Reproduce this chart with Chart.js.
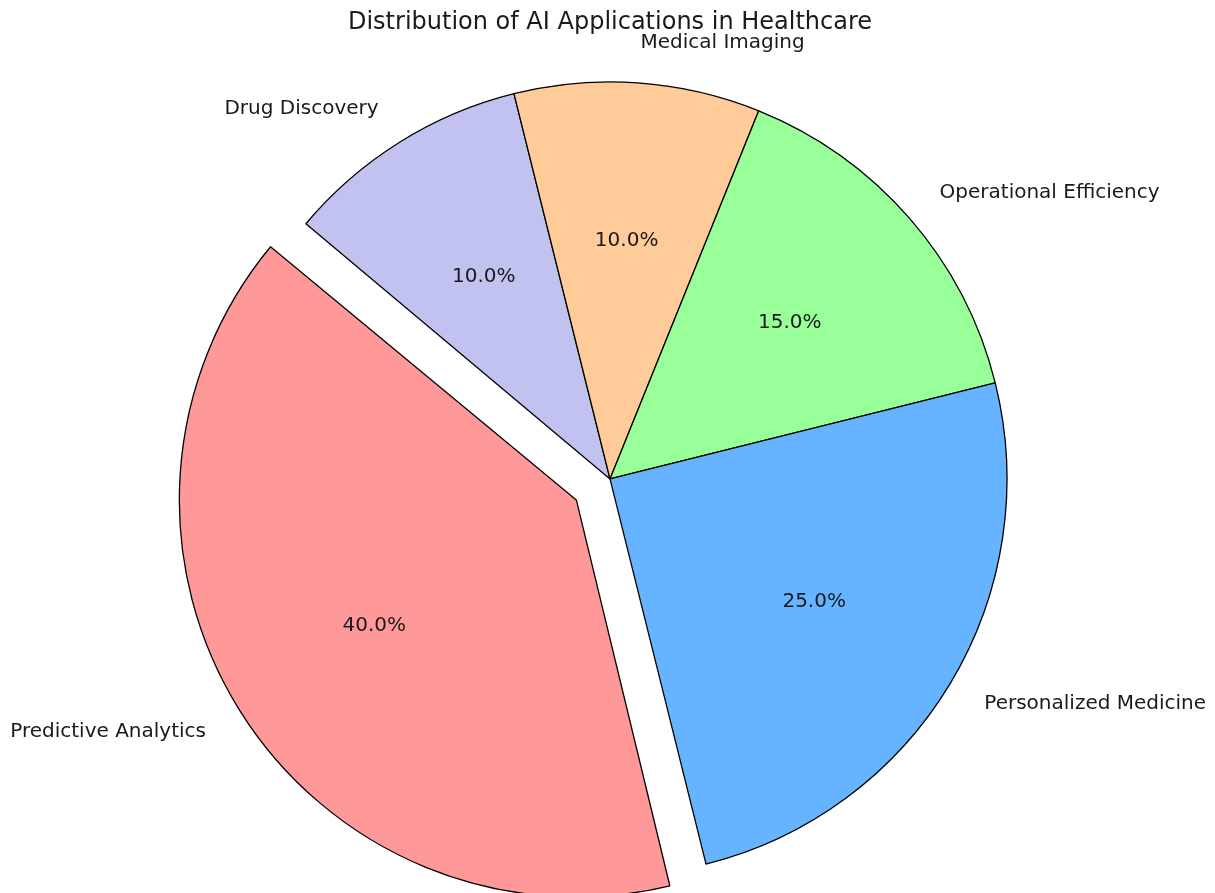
<!DOCTYPE html>
<html lang="en">
<head>
    <meta charset="UTF-8">
    <title>Distribution of AI Applications in Healthcare</title>
    <script src="https://cdn.jsdelivr.net/npm/chart.js@4.4.1/dist/chart.umd.min.js"></script>
    <style>
        body {
            margin: 0;
            background: #ffffff;
        }
        .container {
            width: 1215px;
            height: 893px;
        }
    </style>
</head>
<body>
    <div class="container">
        <canvas id="pieChart"></canvas>
    </div>

    <script>
        // Data in matplotlib order (counterclockwise from start angle)
        const labels = ['Predictive Analytics', 'Personalized Medicine', 'Operational Efficiency', 'Medical Imaging', 'Drug Discovery'];
        const sizes = [40, 25, 15, 10, 10];
        const colors = ['#ff9999', '#66b3ff', '#99ff99', '#ffcc99', '#c2c2f0'];
        const explode = [0.1, 0, 0, 0, 0];

        const R = 397;          // pie radius in px
        const textFont = '20px "DejaVu Sans"';

        // Chart.js draws clockwise, so reverse to keep the same visual order
        const cLabels = labels.slice().reverse();
        const cSizes = sizes.slice().reverse();
        const cColors = colors.slice().reverse();
        const cExplode = explode.slice().reverse();

        // keep exploded wedges the same radius (Chart.js grows them a bit)
        const keepRadius = {
            id: 'keepRadius',
            beforeDatasetsDraw(chart) {
                const meta = chart.getDatasetMeta(0);
                meta.data.forEach((arc, i) => {
                    const off = (arc.options.offset || 0) / 4;
                    const circ = arc.endAngle - arc.startAngle;
                    const fix = 1 - Math.sin(Math.min(Math.PI, circ));
                    arc.outerRadius = R - off * fix;
                });
            }
        };

        // wedge labels and percentages like matplotlib autopct
        const pieLabels = {
            id: 'pieLabels',
            afterDatasetsDraw(chart) {
                const ctx = chart.ctx;
                const meta = chart.getDatasetMeta(0);
                const total = cSizes.reduce((s, v) => s + v, 0);
                ctx.save();
                ctx.font = textFont;
                ctx.fillStyle = '#1a1a1a';
                ctx.textBaseline = 'middle';
                meta.data.forEach((arc, i) => {
                    const mid = (arc.startAngle + arc.endAngle) / 2;
                    const cx = arc.x + Math.cos(mid) * cExplode[i] * R;
                    const cy = arc.y + Math.sin(mid) * cExplode[i] * R;
                    // percentage
                    ctx.textAlign = 'center';
                    ctx.fillText((cSizes[i] / total * 100).toFixed(1) + '%',
                        cx + Math.cos(mid) * 0.6 * R, cy + Math.sin(mid) * 0.6 * R);
                    // label
                    const lx = cx + Math.cos(mid) * 1.1 * R;
                    const ly = cy + Math.sin(mid) * 1.1 * R;
                    ctx.textAlign = Math.cos(mid) > 0 ? 'left' : 'right';
                    ctx.fillText(cLabels[i], lx, ly);
                });
                ctx.restore();
            }
        };

        const ctx = document.getElementById('pieChart').getContext('2d');
        const chart = new Chart(ctx, {
            type: 'pie',
            data: {
                labels: cLabels,
                datasets: [{
                    data: cSizes,
                    backgroundColor: cColors,
                    borderColor: '#000000',
                    borderWidth: 1.3,
                    offset: cExplode.map(e => e * R * 4),
                    hoverOffset: 0
                }]
            },
            options: {
                responsive: true,
                maintainAspectRatio: false,
                animation: false,
                rotation: -50,
                radius: R,
                layout: {
                    padding: { left: 5, right: 0, top: 0, bottom: 0 }
                },
                plugins: {
                    legend: { display: false },
                    tooltip: { enabled: false },
                    title: {
                        display: true,
                        text: 'Distribution of AI Applications in Healthcare',
                        color: '#1a1a1a',
                        font: { family: 'DejaVu Sans', size: 24, weight: 'normal' },
                        padding: { top: 8, bottom: 28 }
                    }
                }
            },
            plugins: [keepRadius, pieLabels]
        });
    </script>
</body>
</html>
